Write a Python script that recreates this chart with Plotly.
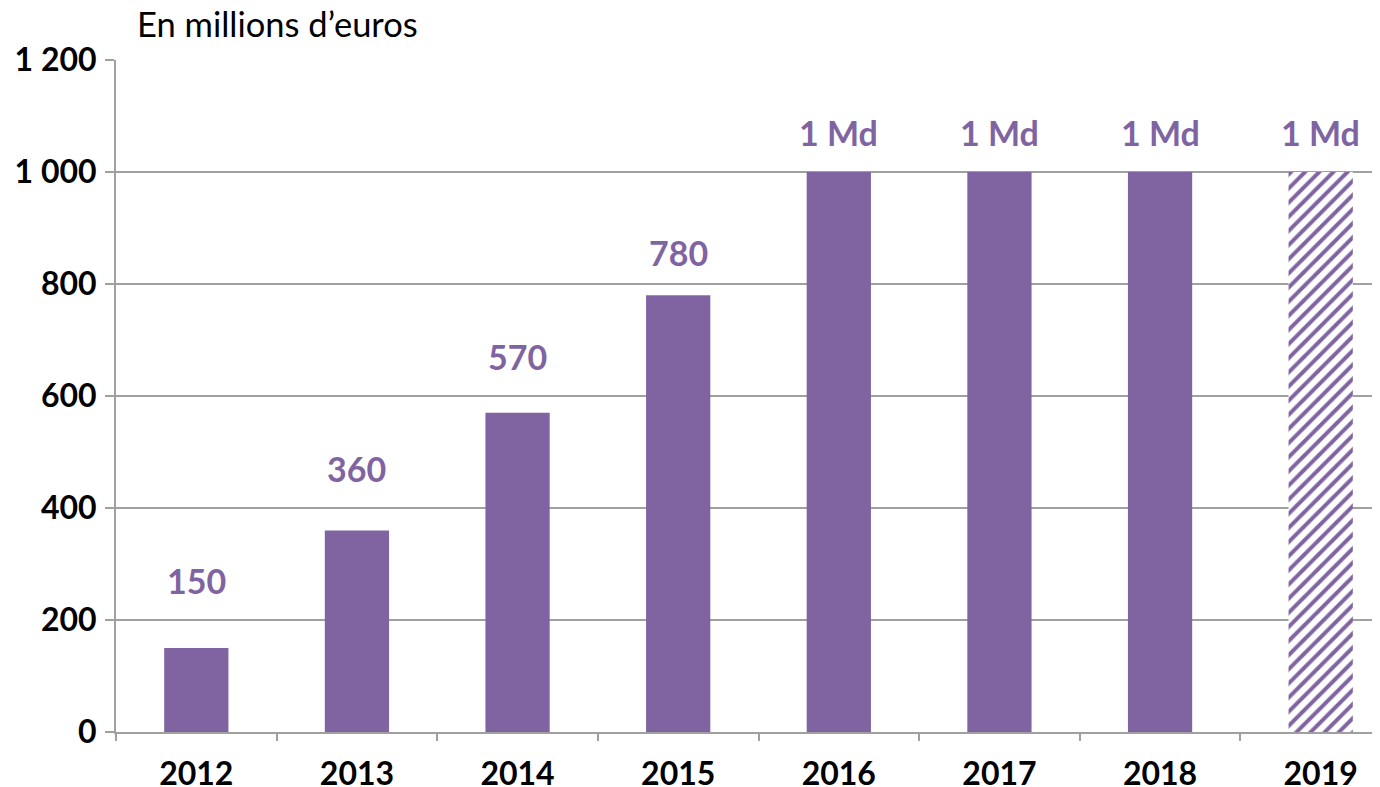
import plotly.graph_objects as go

years = ["2012", "2013", "2014", "2015", "2016", "2017", "2018", "2019"]
values = [150, 360, 570, 780, 1000, 1000, 1000, 1000]
labels = ["150", "360", "570", "780", "1 Md", "1 Md", "1 Md", "1 Md"]
label_offsets = [121, 111, 100, 77, 70, 70, 70, 70]  # value units above bar top (style)
y_ticks = [0, 200, 400, 600, 800, 1000, 1200]
y_tick_text = ["0", "200", "400", "600", "800", "1 000", "1 200"]

PURPLE = "#8064A2"
GRID = "#A0A0A0"
FONT = "Lato, 'Open Sans', sans-serif"

xpos = list(range(len(years)))
solid_x = [i for i, y in zip(xpos, years) if y != "2019"]
solid_y = [v for v, y in zip(values, years) if y != "2019"]
hatch_x = [i for i, y in zip(xpos, years) if y == "2019"]
hatch_y = [v for v, y in zip(values, years) if y == "2019"]

fig = go.Figure()
fig.add_trace(go.Bar(x=solid_x, y=solid_y, marker=dict(color=PURPLE, line=dict(width=0)),
                     width=0.40, hoverinfo="skip"))
fig.add_trace(go.Bar(x=hatch_x, y=hatch_y,
                     marker=dict(color="white", line=dict(width=0),
                                 pattern=dict(shape="/", fgcolor=PURPLE, bgcolor="white",
                                              size=10, solidity=0.4, fillmode="replace")),
                     width=0.40, hoverinfo="skip"))

for i, v, t, o in zip(xpos, values, labels, label_offsets):
    fig.add_annotation(x=i, y=v + o, text=f"<b>{t}</b>", showarrow=False,
                       font=dict(size=34, color=PURPLE, family=FONT),
                       xanchor="center", yanchor="middle")

fig.add_annotation(xref="paper", yref="paper", x=0.0150, y=1.0,
                   text="En millions d’euros", showarrow=False, xanchor="left",
                   yanchor="bottom", yshift=14, xshift=0,
                   font=dict(size=34.5, color="black", family=FONT))

fig.update_layout(
    width=1393, height=779,
    margin=dict(l=108, r=0, t=52, b=55, autoexpand=False),
    plot_bgcolor="white", paper_bgcolor="white",
    showlegend=False, barmode="overlay",
    xaxis=dict(range=[-0.5, len(years) - 0.5], tickvals=xpos,
               ticktext=[f"<b>{y}</b>" for y in years], ticks="",
               minor=dict(tickvals=[i - 0.5 for i in xpos], ticks="outside", ticklen=7,
                          tickcolor=GRID, tickwidth=2, showgrid=False),
               showgrid=False, zeroline=False,
               showline=True, linecolor=GRID, linewidth=2,
               tickfont=dict(size=32, color="black", family=FONT),
               ticklabelstandoff=13),
    yaxis=dict(range=[0, 1200], tickvals=y_ticks, ticktext=[f"<b>{t}</b>" for t in y_tick_text],
               showgrid=True, gridcolor=GRID, gridwidth=2,
               ticks="outside", ticklen=9, tickcolor=GRID, tickwidth=2,
               showline=True, linecolor=GRID, linewidth=2, zeroline=False,
               tickfont=dict(size=32, color="black", family=FONT),
               ticklabelstandoff=2),
)

fig.write_html("out.html")
